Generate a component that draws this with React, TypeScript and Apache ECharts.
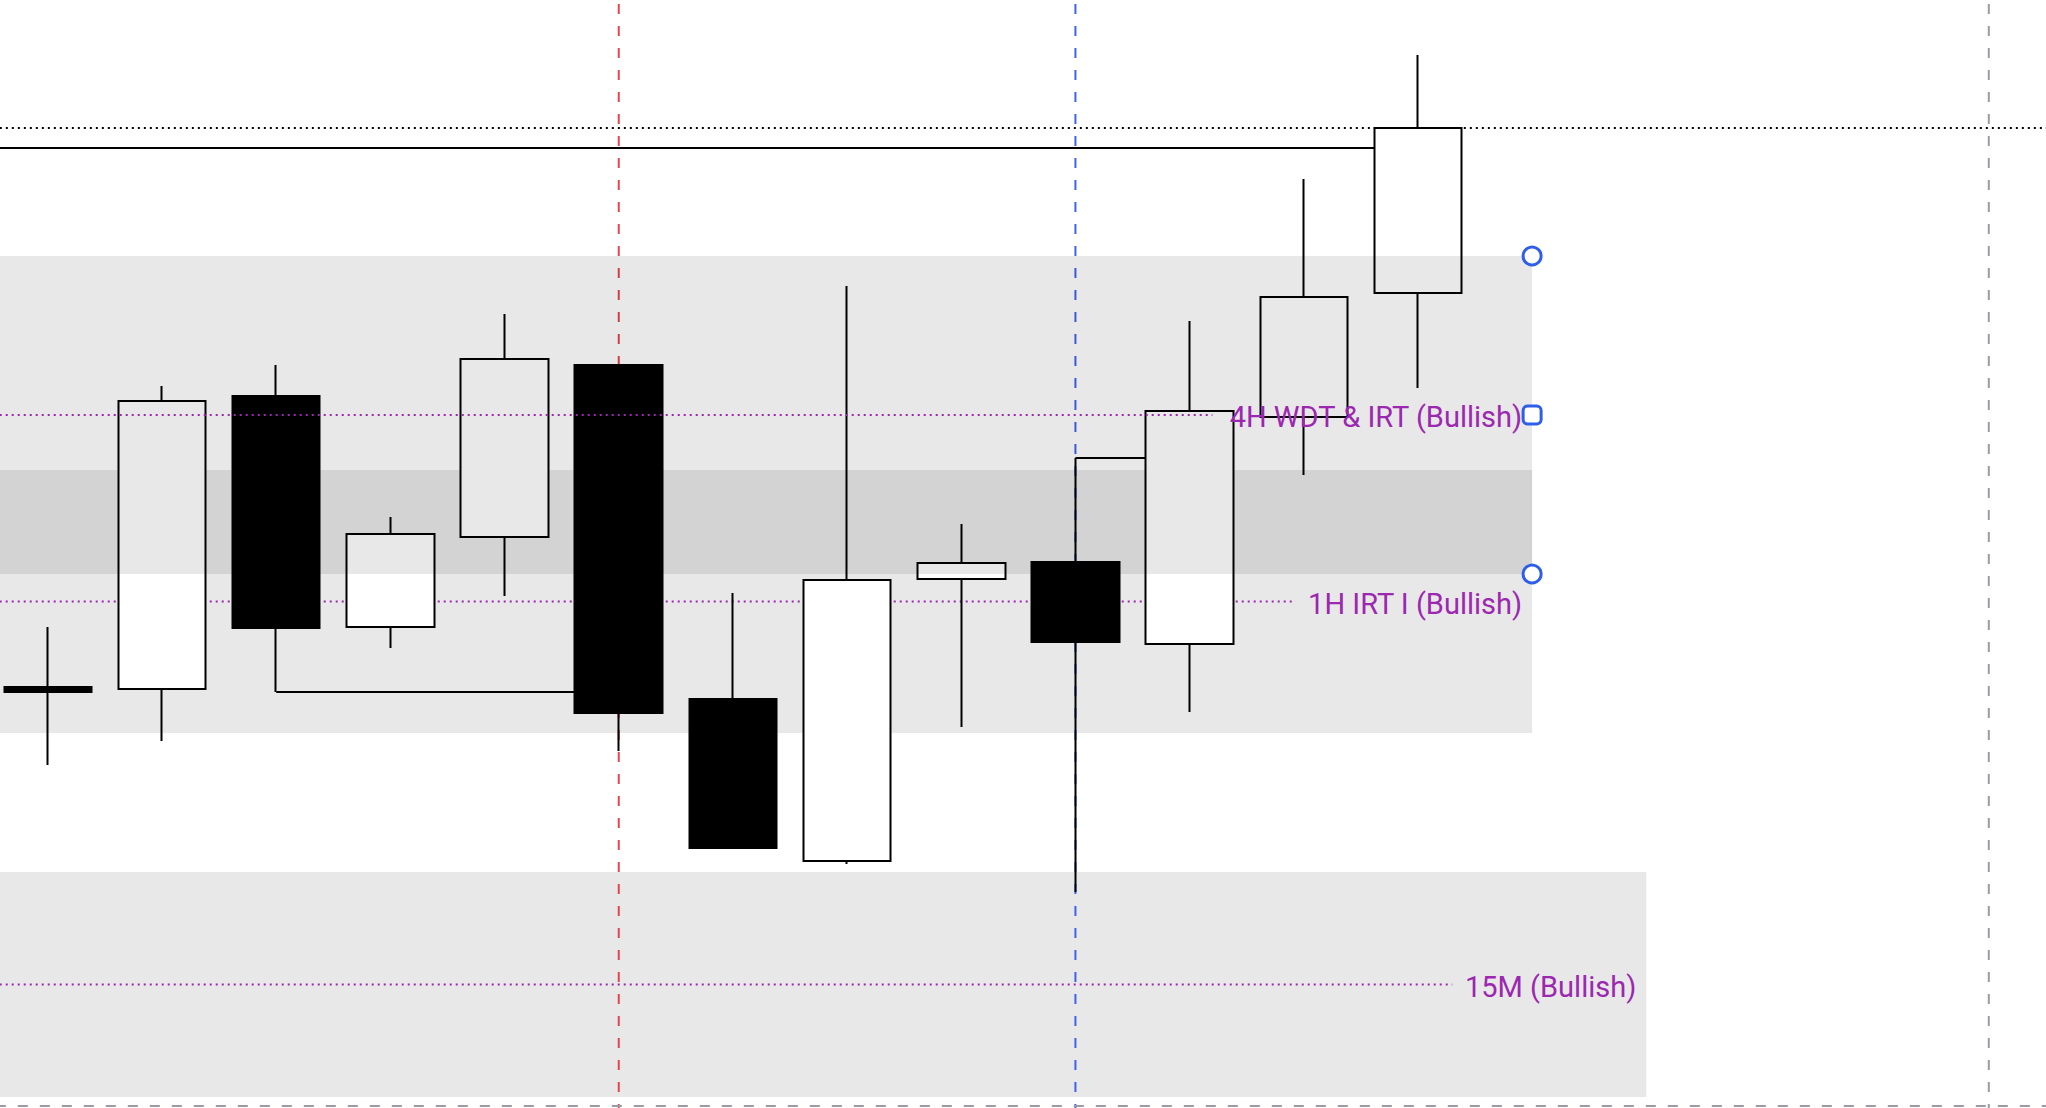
import React, { useEffect, useRef } from 'react';
import * as echarts from 'echarts';

// ---- Candles (index, OHLC) ----
const candleIndex = [0, 1, 2, 3, 4, 5, 6, 7, 8, 9, 10, 11, 12];
const opens = [42.1, 41.9, 71.2, 48.1, 57.1, 74.3, 40.9, 24.7, 52.9, 54.6, 46.4, 69.1, 81.5];
const closes = [41.6, 70.7, 48.0, 57.4, 74.9, 39.5, 26.0, 52.8, 54.5, 46.6, 69.7, 81.1, 98.0];
const lows = [34.3, 36.7, 41.6, 46.0, 51.2, 35.7, 26.0, 24.4, 38.1, 21.6, 39.6, 63.3, 72.0];
const highs = [48.1, 72.2, 74.3, 59.1, 79.4, 74.3, 51.5, 82.2, 58.4, 65.0, 78.7, 92.9, 105.3];

// ---- Zones ----
const zoneNames = ['4H WDT & IRT (Bullish)', '1H IRT I (Bullish)', '15M (Bullish)'];
const zoneStarts = [-1, -1, -1];
const zoneEnds = [13, 13, 14];
const zoneTops = [85.2, 63.8, 23.6];
const zoneBottoms = [53.4, 37.5, 1.1];
const midLineEnds = [10.2, 10.93, 12.3];

// ---- Level lines (swing point -> breaking candle) ----
const levelPrices = [96.0, 41.6, 65.0];
const levelStarts = [-1, 2, 9];
const levelEnds = [11.615, 4.615, 9.615];

// ---- Vertical / horizontal markers ----
const redLineIndex = 5;
const blueLineIndex = 9;
const grayLineIndex = 17;
const grayLinePrice = 0.2;

// view extents
const X_MIN = -0.4195;
const X_MAX = 17.501;
const Y_MIN = 0;
const Y_MAX = 110.8;

const PURPLE = '#9c27b0';
const ZONE_FILL = 'rgba(0,0,0,0.09)';

function zoneSeries(idx: number[], z: number) {
  return {
    type: 'custom',
    z,
    silent: true,
    data: idx.map((i) => [zoneStarts[i], zoneEnds[i], zoneTops[i], zoneBottoms[i]]),
    renderItem: (params: any, api: any) => {
      const p1 = api.coord([api.value(0), api.value(2)]);
      const p2 = api.coord([api.value(1), api.value(3)]);
      return {
        type: 'rect',
        shape: { x: p1[0], y: p1[1], width: p2[0] - p1[0], height: p2[1] - p1[1] },
        style: { fill: ZONE_FILL },
      };
    },
  };
}

function segSeries(segs: number[][], color: string, width: number, dash: number[] | null, z: number) {
  return {
    type: 'custom',
    z,
    silent: true,
    data: segs,
    renderItem: (params: any, api: any) => {
      const a = api.coord([api.value(0), api.value(1)]);
      const b = api.coord([api.value(2), api.value(3)]);
      const style: any = { stroke: color, lineWidth: width, fill: 'none' };
      if (dash) style.lineDash = dash;
      return { type: 'line', shape: { x1: a[0], y1: a[1], x2: b[0], y2: b[1] }, style };
    },
  };
}

function midSegs(idx: number[]) {
  return idx.map((i) => {
    const m = (zoneTops[i] + zoneBottoms[i]) / 2;
    return [zoneStarts[i], m, midLineEnds[i], m];
  });
}

function labelSeries(idx: number[], z: number) {
  return {
    type: 'custom',
    z,
    silent: true,
    data: idx.map((i) => [zoneEnds[i], (zoneTops[i] + zoneBottoms[i]) / 2, i]),
    renderItem: (params: any, api: any) => {
      const p = api.coord([api.value(0), api.value(1)]);
      return {
        type: 'text',
        x: p[0] - 10,
        y: p[1] + 2,
        style: {
          text: zoneNames[api.value(2)],
          fill: PURPLE,
          fontSize: 29,
          fontFamily: 'Roboto',
          align: 'right',
          verticalAlign: 'middle',
        },
      };
    },
  };
}

export default function App() {
  const ref = useRef<HTMLDivElement>(null);
  useEffect(() => {
    const chart = echarts.init(ref.current!, null, { renderer: 'svg' });
    const lastClose = closes[closes.length - 1];
    const option: any = {
      animation: false,
      grid: { left: 0, right: 0, top: 0, bottom: 0, containLabel: false },
      xAxis: { type: 'value', min: X_MIN, max: X_MAX, show: false },
      yAxis: { type: 'value', min: Y_MIN, max: Y_MAX, show: false },
      series: [
        // below candles
        zoneSeries([1, 2], 1),
        segSeries(midSegs([1, 2]), PURPLE, 2, [2, 4], 1),
        segSeries([[redLineIndex, -5, redLineIndex, 120]], '#e4464f', 2, [10, 12], 1),
        segSeries([[blueLineIndex, -5, blueLineIndex, 120]], '#3d63ee', 2, [10, 12], 1),
        segSeries(
          [
            [grayLineIndex, -5, grayLineIndex, 120],
            [X_MIN - 1, grayLinePrice, X_MAX + 1, grayLinePrice],
          ],
          '#9b9ba5',
          2,
          [10, 12],
          1
        ),
        segSeries([[levelStarts[1], levelPrices[1], levelEnds[1], levelPrices[1]]], '#000', 2, null, 1),
        // candles
        {
          type: 'candlestick',
          z: 2,
          barWidth: 88,
          encode: { x: 0, y: [1, 2, 3, 4] },
          data: candleIndex.map((x, i) => [x, opens[i], closes[i], lows[i], highs[i]]),
          itemStyle: {
            color: '#ffffff',
            color0: '#000000',
            borderColor: '#000000',
            borderColor0: '#000000',
            borderColorDoji: '#000000',
            borderWidth: 2,
          },
        },
        // above candles
        zoneSeries([0], 3),
        segSeries(midSegs([0]), PURPLE, 2, [2, 4], 3),
        segSeries(
          [
            [levelStarts[0], levelPrices[0], levelEnds[0], levelPrices[0]],
            [levelStarts[2], levelPrices[2], levelEnds[2], levelPrices[2]],
          ],
          '#000',
          2,
          null,
          3
        ),
        segSeries([[X_MIN - 1, lastClose, X_MAX + 1, lastClose]], '#000', 2, [2, 4], 3),
        labelSeries([0, 1, 2], 4),
        {
          type: 'scatter',
          z: 5,
          silent: true,
          symbol: (v: any, p: any) => (p.dataIndex === 1 ? 'roundRect' : 'circle'),
          symbolSize: 18,
          itemStyle: { color: '#ffffff', borderColor: '#2f5ee8', borderWidth: 3, opacity: 1 },
          data: [
            [zoneEnds[0], zoneTops[0]],
            [zoneEnds[0], (zoneTops[0] + zoneBottoms[0]) / 2],
            [zoneEnds[0], zoneBottoms[0]],
          ],
        },
      ],
    };
    chart.setOption(option);
    return () => chart.dispose();
  }, []);
  return (
    <div
      ref={ref}
      style={{ position: 'absolute', left: 0, top: 0, width: 2046, height: 1108, background: '#fff' }}
    />
  );
}
